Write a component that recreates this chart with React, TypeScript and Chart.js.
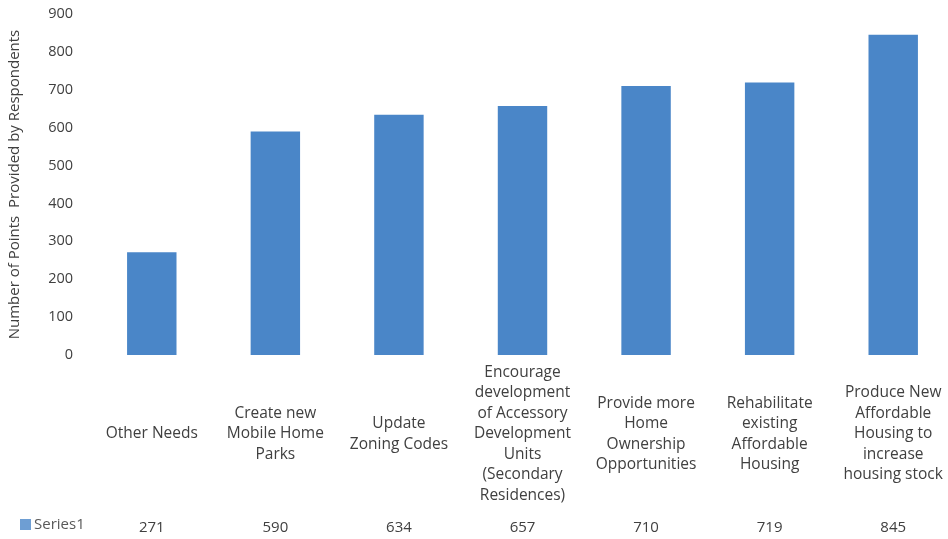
import React, { useEffect, useRef } from "react";
import { Chart, registerables } from "chart.js";

Chart.register(...registerables);

const categories: string[][] = [
  ["Other Needs"],
  ["Create new", "Mobile Home", "Parks"],
  ["Update", "Zoning Codes"],
  ["Encourage", "development", "of Accessory", "Development", "Units", "(Secondary", "Residences)"],
  ["Provide more", "Home", "Ownership", "Opportunities"],
  ["Rehabilitate", "existing", "Affordable", "Housing"],
  ["Produce New", "Affordable", "Housing to", "increase", "housing stock"],
];
const seriesName = "Series1";
const seriesValues: number[] = [271, 590, 634, 657, 710, 719, 845];
const yTicks: number[] = [0, 100, 200, 300, 400, 500, 600, 700, 800, 900];
const yTitle = "Number of Points  Provided by Respondents";

const BAR_COLOR = "#4a86c8";
const TEXT_COLOR = "#404040";
const FONT = "'Open Sans', sans-serif";

const tablePlugin = {
  id: "dataTable",
  afterDraw(chart: any) {
    const ctx = chart.ctx;
    const x = chart.scales.x;
    ctx.save();
    ctx.fillStyle = TEXT_COLOR;
    ctx.font = `15.5px ${FONT}`;
    ctx.textAlign = "center";
    ctx.textBaseline = "middle";
    const lh = 20.5;
    const centerY = 434;
    categories.forEach((lines, i) => {
      const cx = x.getPixelForValue(i);
      const startY = centerY - ((lines.length - 1) * lh) / 2;
      lines.forEach((ln, j) => ctx.fillText(ln, cx, startY + j * lh));
    });
    ctx.font = `15px ${FONT}`;
    categories.forEach((_, i) => {
      const cx = x.getPixelForValue(i);
      ctx.fillText(String(seriesValues[i]), cx, 528);
    });
    ctx.fillStyle = BAR_COLOR;
    ctx.globalAlpha = 0.8;
    ctx.fillRect(20, 519, 11, 11);
    ctx.globalAlpha = 1;
    ctx.fillStyle = "#595959";
    ctx.textAlign = "left";
    ctx.fillText(seriesName, 34, 525);
    ctx.restore();
  },
};

export default function App() {
  const ref = useRef<HTMLCanvasElement | null>(null);
  useEffect(() => {
    if (!ref.current) return;
    const chart = new Chart(ref.current, {
      type: "bar",
      data: {
        labels: categories.map((c) => c.join(" ")),
        datasets: [
          {
            label: seriesName,
            data: seriesValues,
            backgroundColor: BAR_COLOR,
            categoryPercentage: 1,
            barPercentage: 0.4,
          },
        ],
      },
      options: {
        responsive: false,
        animation: false,
        layout: { padding: { top: 14, bottom: 184, right: 5, left: 0 } },
        plugins: { legend: { display: false }, tooltip: { enabled: false } },
        scales: {
          x: { display: false },
          y: {
            min: 0,
            max: 900,
            afterBuildTicks: (s: any) => {
              s.ticks = yTicks.map((v) => ({ value: v }));
            },
            afterFit: (s: any) => {
              s.width = 90;
              s.paddingTop = 0;
              s.paddingBottom = 0;
            },
            grid: { display: false, drawTicks: false },
            border: { display: false },
            ticks: {
              padding: 17,
              color: "#404040",
              font: { family: FONT, size: 14.5 },
            },
            title: {
              display: true,
              text: yTitle,
              color: "#404040",
              font: { family: FONT, size: 15 },
              padding: { top: 6, bottom: 0 },
            },
          },
        },
      },
      plugins: [tablePlugin],
    });
    return () => chart.destroy();
  }, []);
  return (
    <div style={{ position: "fixed", left: 0, top: 0, width: 948, height: 539, overflow: "hidden", background: "#fff" }}>
      <canvas ref={ref} width={960} height={539} style={{ display: "block" }} />
    </div>
  );
}
